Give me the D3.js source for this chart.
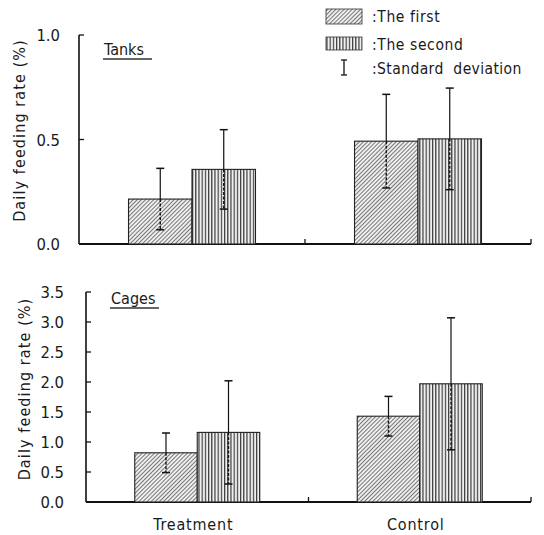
<html>
<head>
<style>
  body { margin: 0; background: #fff; }
  text { font-family: "DejaVu Sans Condensed", "Liberation Sans Narrow", "Liberation Sans", sans-serif; fill: #1a1a1a; }
</style>
</head>
<body>
<svg id="chart" width="544" height="535"></svg>
<script src="https://cdn.jsdelivr.net/npm/d3@7"></script>
<script>
// data
const groups = ["Treatment", "Control"]
const series = ["The first", "The second"]
const tankMeans = [[0.215, 0.357], [0.492, 0.503]]
const tankSD = [[0.147, 0.19], [0.224, 0.243]]
const cageMeans = [[0.82, 1.16], [1.43, 1.97]]
const cageSD = [[0.33, 0.86], [0.33, 1.1]]
const tankTicks = [0, 0.5, 1.0]
const cageTicks = [0, 0.5, 1.0, 1.5, 2.0, 2.5, 3.0, 3.5]

let svg = d3.select("#chart")

// hatch patterns
let defs = svg.append("defs")
let diag = defs.append("pattern").attr("id", "diag")
  .attr("patternUnits", "userSpaceOnUse").attr("width", 2.9).attr("height", 2.9)
  .attr("patternTransform", "rotate(45)")
diag.append("rect").attr("width", 2.9).attr("height", 2.9).attr("fill", "#eeeeee")
diag.append("line").attr("x1", 0).attr("y1", 0).attr("x2", 0).attr("y2", 2.9)
  .attr("stroke", "#2a2a2a").attr("stroke-width", 1.2)
let vert = defs.append("pattern").attr("id", "vert")
  .attr("patternUnits", "userSpaceOnUse").attr("width", 3.2).attr("height", 4)
vert.append("rect").attr("width", 3.2).attr("height", 4).attr("fill", "#f0f0f0")
vert.append("line").attr("x1", 0.6).attr("y1", 0).attr("x2", 0.6).attr("y2", 4)
  .attr("stroke", "#2a2a2a").attr("stroke-width", 1.1)
const fills = ["url(#diag)", "url(#vert)"]

function panel(opt) {
  let g = svg.append("g")
  let x = d3.scaleBand().domain(groups).range([opt.left, 531])
  let xs = d3.scaleBand().domain(series).range([0, x.bandwidth()]).paddingOuter(0.78)
  let y = d3.scaleLinear().domain([0, opt.max]).range([opt.bottom, opt.top])

  // y axis: inward ticks
  g.append("line").attr("x1", opt.left).attr("x2", opt.left)
    .attr("y1", y(0)).attr("y2", y(opt.max)).attr("stroke", "#111").attr("stroke-width", 1.6)
  g.selectAll(".yt").data(opt.ticks).enter().append("line")
    .attr("x1", opt.left).attr("x2", opt.left + 5)
    .attr("y1", d => y(d)).attr("y2", d => y(d)).attr("stroke", "#111").attr("stroke-width", 1.3)
  g.selectAll(".yl").data(opt.ticks).enter().append("text")
    .attr("x", opt.left - opt.labelGap).attr("y", d => y(d) + 6)
    .attr("text-anchor", "end").attr("font-size", 16.5)
    .text(d => d.toFixed(1))

  // x axis
  g.append("line").attr("x1", opt.left).attr("x2", 531)
    .attr("y1", y(0)).attr("y2", y(0)).attr("stroke", "#111").attr("stroke-width", 1.8)
  g.selectAll(".xt").data([x.step() + opt.left, 531]).enter().append("line")
    .attr("x1", d => d).attr("x2", d => d).attr("y1", y(0)).attr("y2", y(0) - 5)
    .attr("stroke", "#111").attr("stroke-width", 1.3)

  // bars
  groups.forEach((grp, i) => {
    series.forEach((s, j) => {
      let m = opt.means[i][j], sd = opt.sd[i][j]
      let bx = x(grp) + xs(s)
      g.append("rect").attr("x", bx).attr("y", y(m))
        .attr("width", xs.bandwidth()).attr("height", y(0) - y(m))
        .attr("fill", fills[j]).attr("stroke", "#222").attr("stroke-width", 1.1)
      let cx = bx + xs.bandwidth() / 2
      // upper part of SD
      g.append("line").attr("x1", cx).attr("x2", cx).attr("y1", y(m)).attr("y2", y(m + sd))
        .attr("stroke", "#111").attr("stroke-width", 1.2)
      g.append("line").attr("x1", cx - 4).attr("x2", cx + 4).attr("y1", y(m + sd)).attr("y2", y(m + sd))
        .attr("stroke", "#111").attr("stroke-width", 1.5)
      // lower part, inside the bar
      g.append("line").attr("x1", cx).attr("x2", cx).attr("y1", y(m)).attr("y2", y(m - sd))
        .attr("stroke", "#111").attr("stroke-width", 1.4).attr("stroke-dasharray", "3,1.5")
      g.append("line").attr("x1", cx - 4).attr("x2", cx + 4).attr("y1", y(m - sd)).attr("y2", y(m - sd))
        .attr("stroke", "#111").attr("stroke-width", 1.5)
    })
  })

  // panel name, underlined
  g.append("text").attr("x", opt.left + 25).attr("y", opt.nameY)
    .attr("font-size", 16).text(opt.name)
  g.append("line").attr("x1", opt.left + 24).attr("x2", opt.left + 73)
    .attr("y1", opt.nameY + 4).attr("y2", opt.nameY + 4).attr("stroke", "#333").attr("stroke-width", 1.3)

  // y title
  g.append("text").attr("transform", `translate(${opt.titleX},${(y(0) + y(opt.max)) / 2 + opt.titleShift}) rotate(-90)`)
    .attr("text-anchor", "middle").attr("font-size", 16).attr("letter-spacing", 1.1)
    .text("Daily feeding rate (%)")
  return x
}

panel({ name: "Tanks", means: tankMeans, sd: tankSD, max: 1.0, ticks: tankTicks,
  left: 79, top: 35, bottom: 244, nameY: 55, labelGap: 19, titleX: 25, titleShift: -9 })
let xb = panel({ name: "Cages", means: cageMeans, sd: cageSD, max: 3.5, ticks: cageTicks,
  left: 86, top: 292, bottom: 502, nameY: 304, labelGap: 22, titleX: 30, titleShift: -8 })

// group labels
svg.selectAll(".gl").data(groups).enter().append("text")
  .attr("x", d => xb(d) + xb.bandwidth() / 2 - 4).attr("y", 530)
  .attr("text-anchor", "middle").attr("font-size", 16).attr("letter-spacing", 0.8)
  .text(d => d)

// legend
let lg = svg.append("g")
series.forEach((s, j) => {
  let ly = [9, 37][j]
  lg.append("rect").attr("x", 326).attr("y", ly).attr("width", 36).attr("height", [15, 13][j])
    .attr("fill", fills[j]).attr("stroke", "#333").attr("stroke-width", 0.8)
  lg.append("text").attr("x", 372).attr("y", ly + 13).attr("font-size", 15.5)
    .attr("letter-spacing", 0.6).text(":" + s)
})
lg.append("line").attr("x1", 344).attr("x2", 344).attr("y1", 60).attr("y2", 75).attr("stroke", "#111").attr("stroke-width", 1.3)
lg.selectAll(".cap").data([60, 75]).enter().append("line")
  .attr("x1", 341).attr("x2", 347).attr("y1", d => d).attr("y2", d => d).attr("stroke", "#111").attr("stroke-width", 1.3)
lg.append("text").attr("x", 372).attr("y", 74).attr("font-size", 15.5)
  .attr("letter-spacing", 0.4).attr("xml:space", "preserve").text(":Standard  deviation")
</script>
</body>
</html>
